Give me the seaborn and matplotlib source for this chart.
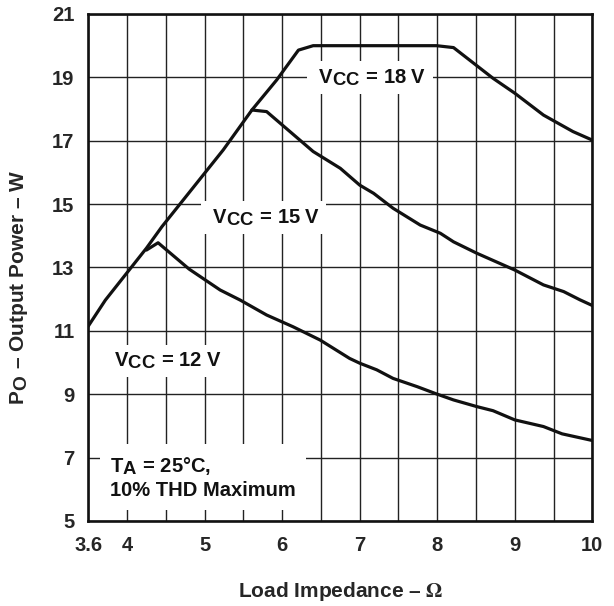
import matplotlib
matplotlib.use("Agg")
import matplotlib._mathtext as mathtext_internals
import pandas as pd
import matplotlib.pyplot as plt
import seaborn as sns

# output power vs load impedance
z_18v = [3.5, 3.72, 4.25, 4.45, 5.24, 5.61, 5.93, 6.21, 6.40, 7.99, 8.21, 8.72, 9.00, 9.37, 9.75, 10.0]
p_18v = [11.15, 11.97, 13.61, 14.29, 16.71, 17.97, 18.92, 19.86, 20.0, 20.0, 19.94, 18.97, 18.50, 17.81, 17.29, 17.02]

z_15v = [5.61, 5.80, 6.40, 6.75, 7.00, 7.18, 7.43, 7.78, 8.04, 8.21, 8.51, 9.00, 9.37, 9.63, 9.84, 10.0]
p_15v = [17.97, 17.92, 16.66, 16.13, 15.60, 15.34, 14.87, 14.34, 14.08, 13.81, 13.45, 12.92, 12.45, 12.24, 11.98, 11.80]

z_12v = [4.25, 4.40, 4.80, 5.20, 5.46, 5.80, 6.14, 6.49, 6.87, 7.00, 7.22, 7.43, 7.74, 7.99,
         8.21, 8.51, 8.72, 9.00, 9.37, 9.61, 10.0]
p_12v = [13.55, 13.78, 12.95, 12.29, 11.97, 11.50, 11.13, 10.71, 10.13, 9.98, 9.77, 9.50, 9.24, 9.01,
         8.82, 8.61, 8.48, 8.19, 7.98, 7.75, 7.54]

x_major = [3.5, 4, 5, 6, 7, 8, 9, 10]
x_labels = ["3.6", "4", "5", "6", "7", "8", "9", "10"]
x_minor = [4.5, 5.5, 6.5, 7.5, 8.5, 9.5]
y_ticks = [5, 7, 9, 11, 13, 15, 17, 19, 21]

df = pd.concat([
    pd.DataFrame({"z": z_18v, "p": p_18v, "vcc": "18 V"}),
    pd.DataFrame({"z": z_15v, "p": p_15v, "vcc": "15 V"}),
    pd.DataFrame({"z": z_12v, "p": p_12v, "vcc": "12 V"}),
])

# datasheet subscripts are nearly full size
mathtext_internals.SHRINK_FACTOR = 0.92

sns.set_theme(style="white")
plt.rcParams["font.family"] = ["Liberation Sans", "DejaVu Sans"]
plt.rcParams["font.weight"] = "bold"
plt.rcParams["mathtext.fontset"] = "stix"

fig = plt.figure(figsize=(6.14, 6.06), dpi=100)
ax = fig.add_axes([0.1438, 0.1403, 0.8209, 0.8366])

sns.lineplot(data=df, x="z", y="p", hue="vcc", palette=["#111111"] * 3,
             sort=False, estimator=None, linewidth=2.3, legend=False, ax=ax, zorder=4)

ax.set_xlim(3.5, 10)
ax.set_ylim(5, 21)
ax.set_xticks(x_major)
ax.set_xticklabels(x_labels)
ax.set_xticks(x_minor, minor=True)
ax.set_yticks(y_ticks)
ax.tick_params(axis="both", which="both", length=0, labelsize=14.5)
ax.tick_params(axis="x", pad=11)
ax.tick_params(axis="y", pad=10)
for lab in ax.get_xticklabels() + ax.get_yticklabels():
    lab.set_fontweight("bold")

ax.grid(True, which="both", axis="x", color="#222222", linewidth=1.0)
ax.grid(True, which="major", axis="y", color="#222222", linewidth=1.0)
ax.set_axisbelow(True)
for s in ax.spines.values():
    s.set_color("#111111")
    s.set_linewidth(1.9)

ax.set_xlabel("Load Impedance – $\\Omega$", fontsize=15, fontweight="bold")
ax.set_ylabel("P$_{\\mathregular{O}}$ – Output Power – W", fontsize=15, fontweight="bold")
ax.xaxis.set_label_coords(0.5, -0.116)
ax.yaxis.set_label_coords(-0.115, 0.46)

box = dict(boxstyle="square,pad=0.3", facecolor="white", edgecolor="none")
txt = dict(fontsize=14.5, fontweight="bold", color="#111111", bbox=box, zorder=3)
ax.text(7.13, 19.0, " V$_{\\mathregular{CC}}$ = 18 V ", ha="center", va="center", **txt)
ax.text(5.76, 14.58, " V$_{\\mathregular{CC}}$ = 15 V ", ha="center", va="center", **txt)
ax.text(4.53, 10.05, "V$_{\\mathregular{CC}}$ = 12 V", ha="center", va="center", **txt)
ta = dict(txt)
ta["bbox"] = dict(boxstyle="square,pad=0.5", facecolor="white", edgecolor="none")
ax.text(3.78, 6.37, "T$_{\\mathregular{A}}$ = 25°C,\n10% THD Maximum", ha="left", va="center",
        linespacing=1.3, **ta)

fig.savefig("out.png", dpi=100)
